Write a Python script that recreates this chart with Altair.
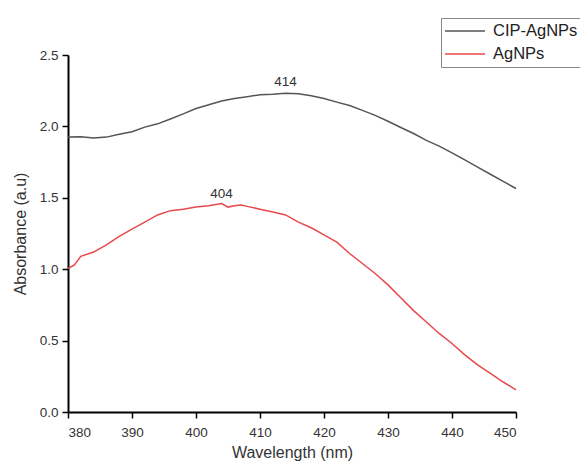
import altair as alt
import pandas as pd

wl_cip = [380, 382, 384, 386, 388, 390, 392, 394, 396, 398, 400, 402, 404, 406, 408, 410,
          412, 414, 416, 418, 420, 422, 424, 426, 428, 430, 432, 434, 436, 438, 440, 442,
          444, 446, 448, 450]
abs_cip = [1.925, 1.927, 1.918, 1.925, 1.945, 1.962, 1.995, 2.018, 2.052, 2.088, 2.125, 2.152,
           2.178, 2.196, 2.208, 2.222, 2.226, 2.233, 2.228, 2.214, 2.196, 2.170, 2.146, 2.112,
           2.077, 2.036, 1.992, 1.950, 1.902, 1.862, 1.815, 1.765, 1.715, 1.665, 1.615, 1.565]

wl_ag = [380, 381, 382, 384, 386, 388, 390, 392, 394, 396, 398, 400, 402, 404, 405, 406,
         407, 408, 410, 412, 414, 416, 418, 420, 422, 424, 426, 428, 430, 432, 434, 436,
         438, 440, 442, 444, 446, 448, 450]
abs_ag = [1.005, 1.03, 1.09, 1.12, 1.17, 1.23, 1.28, 1.33, 1.38, 1.41, 1.42, 1.435, 1.445,
          1.46, 1.435, 1.445, 1.45, 1.44, 1.42, 1.40, 1.38, 1.33, 1.29, 1.24, 1.19, 1.11,
          1.04, 0.97, 0.89, 0.80, 0.71, 0.63, 0.55, 0.48, 0.40, 0.33, 0.27, 0.21, 0.155]

series_names = ["CIP-AgNPs", "AgNPs"]
series_colors = ["#555555", "#e8484c"]

peak_wl = [414, 404]
peak_abs = [2.31, 1.525]
peak_text = ["414", "404"]

df = pd.concat([
    pd.DataFrame({"wl": wl_cip, "A": abs_cip, "s": series_names[0]}),
    pd.DataFrame({"wl": wl_ag, "A": abs_ag, "s": series_names[1]}),
])
peaks = pd.DataFrame({"wl": peak_wl, "A": peak_abs, "t": peak_text})

FONT = "Liberation Sans"

x_vals = list(range(380, 451, 5))
y_vals = [i * 0.25 for i in range(11)]

xscale = alt.Scale(domain=[380, 450], nice=False, zero=False)
yscale = alt.Scale(domain=[0, 2.5], nice=False)

xaxis = alt.Axis(
    values=x_vals, grid=False, domainColor="black", domainWidth=2,
    tickColor="black", tickWidth=1.5,
    tickSize={"condition": {"test": "datum.value % 10 === 0", "value": 6}, "value": 3},
    labelExpr="datum.value % 10 === 0 ? datum.label : ''",
    labelFont=FONT, labelFontSize=13.5, labelColor="#333333", labelPadding=7,
    title="Wavelength (nm)", titleFont=FONT, titleFontSize=16, titleFontWeight="normal",
    titleColor="#333333", titlePadding=6,
)
yaxis = alt.Axis(
    values=y_vals, grid=False, domainColor="black", domainWidth=2,
    tickColor="black", tickWidth=1.5,
    tickSize={"condition": {"test": "abs(datum.value*2 - round(datum.value*2)) < 0.01", "value": 6}, "value": 3},
    labelExpr="abs(datum.value*2 - round(datum.value*2)) < 0.01 ? format(datum.value, '.1f') : ''",
    labelFont=FONT, labelFontSize=13.5, labelColor="#333333", labelPadding=4,
    title="Absorbance (a.u)", titleFont=FONT, titleFontSize=16, titleFontWeight="normal",
    titleColor="#333333", titlePadding=11,
)

lines = alt.Chart(df).mark_line(strokeWidth=1.5).encode(
    x=alt.X("wl:Q", scale=xscale, axis=xaxis),
    y=alt.Y("A:Q", scale=yscale, axis=yaxis),
    color=alt.Color(
        "s:N",
        scale=alt.Scale(domain=series_names, range=series_colors),
        sort=series_names,
        legend=alt.Legend(
            title=None, orient="none", legendX=373, legendY=-37,
            symbolType="stroke", symbolSize=1600, symbolStrokeWidth=1.5,
            labelFont=FONT, labelFontSize=16.5, labelColor="#222222",
            strokeColor="#888888", padding=3, rowPadding=3, labelOffset=7,
            clipHeight=20,
        ),
    ),
    detail="s:N",
)

labels = alt.Chart(peaks).mark_text(font=FONT, fontSize=13.5, color="#333333").encode(
    x=alt.X("wl:Q", scale=xscale),
    y=alt.Y("A:Q", scale=yscale),
    text="t:N",
)

chart = alt.layer(lines, labels).properties(
    width=448, height=357,
    autosize=alt.AutoSizeParams(type="none"),
    padding={"left": 60, "top": 47, "right": 64, "bottom": 49},
    background="white",
).configure_view(stroke=None)

chart.save("out.html", embed_options={"renderer": "svg", "actions": False})
